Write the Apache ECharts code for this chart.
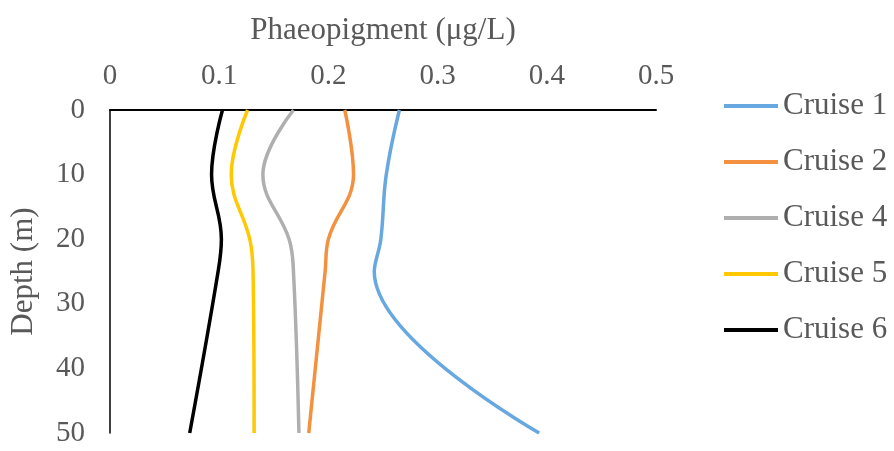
<!DOCTYPE html>
<html>
<head>
<meta charset="utf-8">
<script src="https://cdn.jsdelivr.net/npm/echarts@6/dist/echarts.min.js"></script>
<style>
  html, body { margin: 0; padding: 0; background: #fff; }
  #chart { width: 894px; height: 451px; }
</style>
</head>
<body>
<div id="chart"></div>
<script>
// depth of each sample (m)
var depths = [0, 10, 20, 25, 50];
// phaeopigment (ug/L) per cruise
var cruise1 = [0.265, 0.253, 0.248, 0.242, 0.393];
var cruise2 = [0.215, 0.223, 0.200, 0.197, 0.182];
var cruise4 = [0.168, 0.140, 0.164, 0.168, 0.173];
var cruise5 = [0.126, 0.111, 0.128, 0.131, 0.132];
var cruise6 = [0.103, 0.093, 0.102, 0.099, 0.073];
var xTicks = [0, 0.1, 0.2, 0.3, 0.4, 0.5];

var names = ['Cruise 1', 'Cruise 2', 'Cruise 4', 'Cruise 5', 'Cruise 6'];
var colors = ['#66A8DF', '#F39141', '#AFAFAF', '#FFC800', '#000000'];
var values = [cruise1, cruise2, cruise4, cruise5, cruise6];

var font = '"Liberation Serif", "Times New Roman", serif';
var textColor = '#595959';

var chart = echarts.init(document.getElementById('chart'));

var series = values.map(function (vals, i) {
    return {
        name: names[i],
        type: 'line',
        smooth: 0.4,
        showSymbol: false,
        symbol: 'none',
        lineStyle: { width: 3.5, color: colors[i] },
        itemStyle: { color: colors[i] },
        data: vals.map(function (v, j) { return [v, depths[j]]; })
    };
});

chart.setOption({
    animation: false,
    textStyle: { fontFamily: font },
    grid: { left: 108, top: 110, right: 238, bottom: 18, containLabel: false },
    legend: {
        orient: 'vertical',
        left: 719,
        top: 85,
        icon: 'rect',
        itemWidth: 54,
        itemHeight: 4,
        itemGap: 24,
        textStyle: { fontFamily: font, fontSize: 31, color: textColor, lineHeight: 32 },
        data: names
    },
    xAxis: {
        type: 'value',
        position: 'top',
        min: 0,
        max: 0.5,
        interval: 0.1,
        name: 'Phaeopigment (μg/L)',
        nameLocation: 'middle',
        nameGap: 64,
        nameTextStyle: { fontFamily: font, fontSize: 31, color: textColor },
        axisLine: { show: true, lineStyle: { color: '#000', width: 2 } },
        axisTick: { show: false },
        splitLine: { show: false },
        axisLabel: {
            margin: 19,
            fontFamily: font,
            fontSize: 29,
            color: textColor,
            formatter: function (v) {
                return xTicks.indexOf(Math.round(v * 10) / 10) >= 0 ? String(Math.round(v * 10) / 10) : '';
            }
        }
    },
    yAxis: {
        type: 'value',
        inverse: true,
        min: 0,
        max: 50,
        interval: 10,
        name: 'Depth (m)',
        nameLocation: 'middle',
        nameGap: 71,
        nameRotate: 90,
        nameTextStyle: { fontFamily: font, fontSize: 31, color: textColor },
        axisLine: { show: true, lineStyle: { color: '#000', width: 1.5 } },
        axisTick: { show: false },
        splitLine: { show: false },
        axisLabel: { margin: 25, fontFamily: font, fontSize: 29, color: textColor }
    },
    series: series
});
</script>
</body>
</html>
